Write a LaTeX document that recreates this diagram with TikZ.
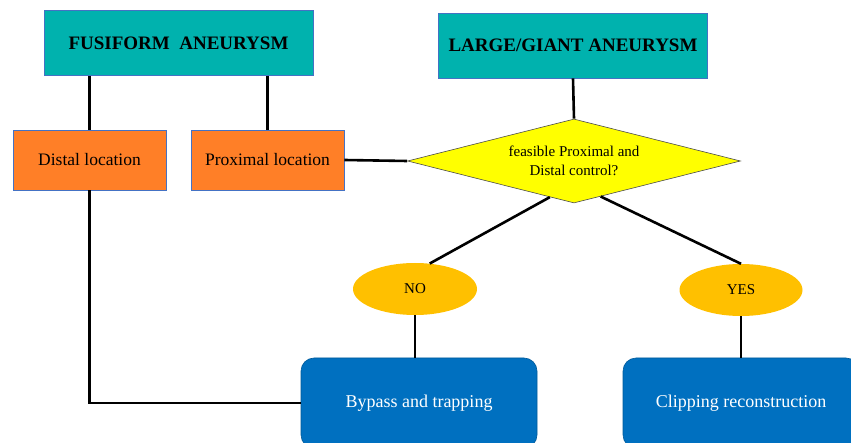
\documentclass[tikz,border=0pt]{standalone}
\usepackage{fontspec}
\setmainfont{Liberation Serif}
\usepackage{tikz}
\usetikzlibrary{shapes.geometric,calc}
\definecolor{headteal}{RGB}{0,178,174}
\definecolor{locorange}{RGB}{255,127,39}
\definecolor{edgeblue}{RGB}{68,114,196}
\definecolor{ansgold}{RGB}{255,192,0}
\definecolor{outblue}{RGB}{0,112,192}
\definecolor{diayellow}{RGB}{255,255,0}

\begin{document}
\begin{tikzpicture}[x=1pt,y=-1pt,
		headbox/.style={draw=edgeblue,line width=0.8pt,fill=headteal,minimum width=269pt,minimum height=65pt,font=\fontsize{19}{23}\selectfont\bfseries},
		locbox/.style={draw=edgeblue,line width=0.8pt,fill=locorange,minimum width=153pt,minimum height=60pt,font=\fontsize{17.5}{21}\selectfont},
		choice/.style={diamond,draw=black!70,line width=0.6pt,fill=diayellow,shape aspect=4,inner sep=0pt,minimum width=333pt,minimum height=84pt,align=center,font=\fontsize{15}{19}\selectfont},
		answer/.style={ellipse,fill=ansgold,inner sep=0pt,minimum width=124pt,minimum height=52pt,font=\fontsize{15}{18}\selectfont},
		outcome/.style={draw=outblue!80!black,line width=0.6pt,fill=outblue,rounded corners=13pt,minimum width=236pt,minimum height=90pt,text=white,font=\fontsize{18}{22}\selectfont},
		link/.style={line width=2.6pt,black}]
		\clip (0,0) rectangle (851,443);
		% top row
		\node[headbox] (fusi) at (178.5,43) {FUSIFORM\ \ ANEURYSM};
		\node[headbox] (large) at (573,45.5) {LARGE/GIANT ANEURYSM};
		% locations
		\node[locbox] (distal) at (89.5,160) {Distal location};
		\node[locbox] (proximal) at (267.5,160) {Proximal location};
		% decision
		\node[choice] (ctrl) at (574,161) {feasible Proximal and\\Distal control?};
		\node[answer] (no) at (415,289) {NO};
		\node[answer,minimum width=123pt] (yes) at (741,290) {YES};
		% treatments
		\node[outcome] (bypass) at (419,403) {Bypass and trapping};
		\node[outcome] (clip) at (741,403) {Clipping reconstruction};
		\coordinate (ctrlL) at ($(ctrl.south)!0.145!(ctrl.west)$);
		\coordinate (ctrlR) at ($(ctrl.south)!0.16!(ctrl.east)$);
		% connectors
		\draw[link] (fusi.south -| distal.north) -- (distal.north);
		\draw[link] (fusi.south -| proximal.north) -- (proximal.north);
		\draw[link] (large.south) -- (ctrl.north);
		\draw[link] (proximal.east) -- (ctrl.west);
		\draw[link] (ctrlL) -- (no.60);
		\draw[link] (ctrlR) -- (yes.north);
		\draw[link] (no.south) -- (no.south |- bypass.north);
		\draw[link] (yes.south) -- (clip.north);
		\draw[link] (distal.south) |- (bypass.west);
	\end{tikzpicture}
\end{document}
